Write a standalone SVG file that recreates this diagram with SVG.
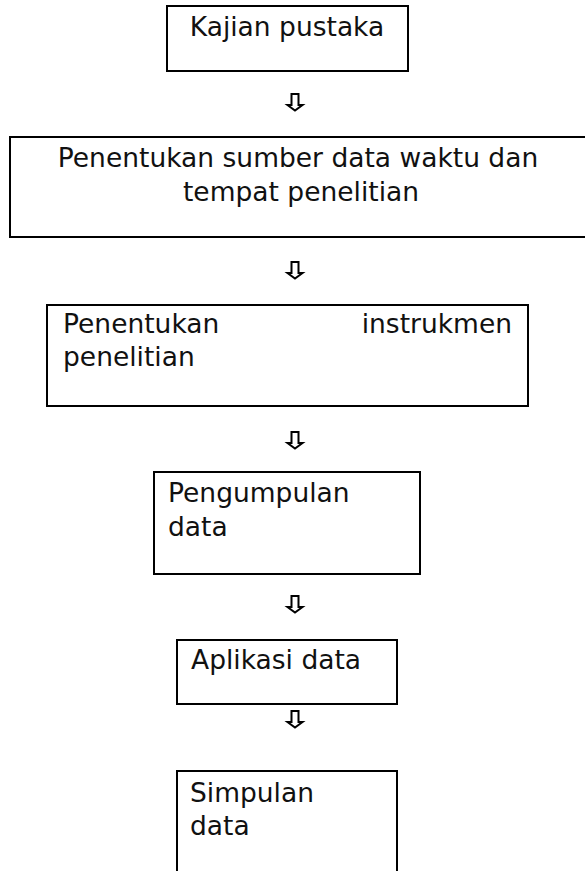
<svg xmlns="http://www.w3.org/2000/svg" width="585" height="871" viewBox="0 0 585 871">
<style>
.box{fill:#fff;stroke:#000;stroke-width:2}
.t{font-family:"DejaVu Sans",Verdana,sans-serif;font-size:26.5px;fill:#111}
.arr{fill:#fff;stroke:#000;stroke-width:2;stroke-linejoin:miter}
</style>
<defs>
<path id="dn" d="M-3.5,0 H3.5 V11 H7.5 L0,16.5 L-7.5,11 H-3.5 Z"/>
</defs>
<rect width="585" height="871" fill="#fff"/>
<g id="n1"><rect class="box" x="167" y="6" width="241" height="65"/><text class="t" x="287" y="36" text-anchor="middle">Kajian pustaka</text></g>
<g id="n2"><rect class="box" x="10" y="137" width="580" height="100"/><text class="t" x="298" y="167" text-anchor="middle">Penentukan sumber data waktu dan</text><text class="t" x="301" y="201" text-anchor="middle">tempat penelitian</text></g>
<g id="n3"><rect class="box" x="47" y="305" width="481" height="101"/><text class="t" x="63" y="333">Penentukan</text><text class="t" x="512" y="333" text-anchor="end">instrukmen</text><text class="t" x="63" y="366">penelitian</text></g>
<g id="n4"><rect class="box" x="154" y="472" width="266" height="102"/><text class="t" x="168" y="502">Pengumpulan</text><text class="t" x="168" y="536">data</text></g>
<g id="n5"><rect class="box" x="177" y="640" width="220" height="64"/><text class="t" x="191" y="669">Aplikasi data</text></g>
<g id="n6"><rect class="box" x="177" y="771" width="220" height="110"/><text class="t" x="190" y="802">Simpulan</text><text class="t" x="190" y="835">data</text></g>
<g id="connectors">
<use href="#dn" class="arr" x="295" y="94"/>
<use href="#dn" class="arr" x="295" y="262"/>
<use href="#dn" class="arr" x="295" y="432"/>
<use href="#dn" class="arr" x="295" y="596"/>
<use href="#dn" class="arr" x="295" y="711"/>
</g>
</svg>
